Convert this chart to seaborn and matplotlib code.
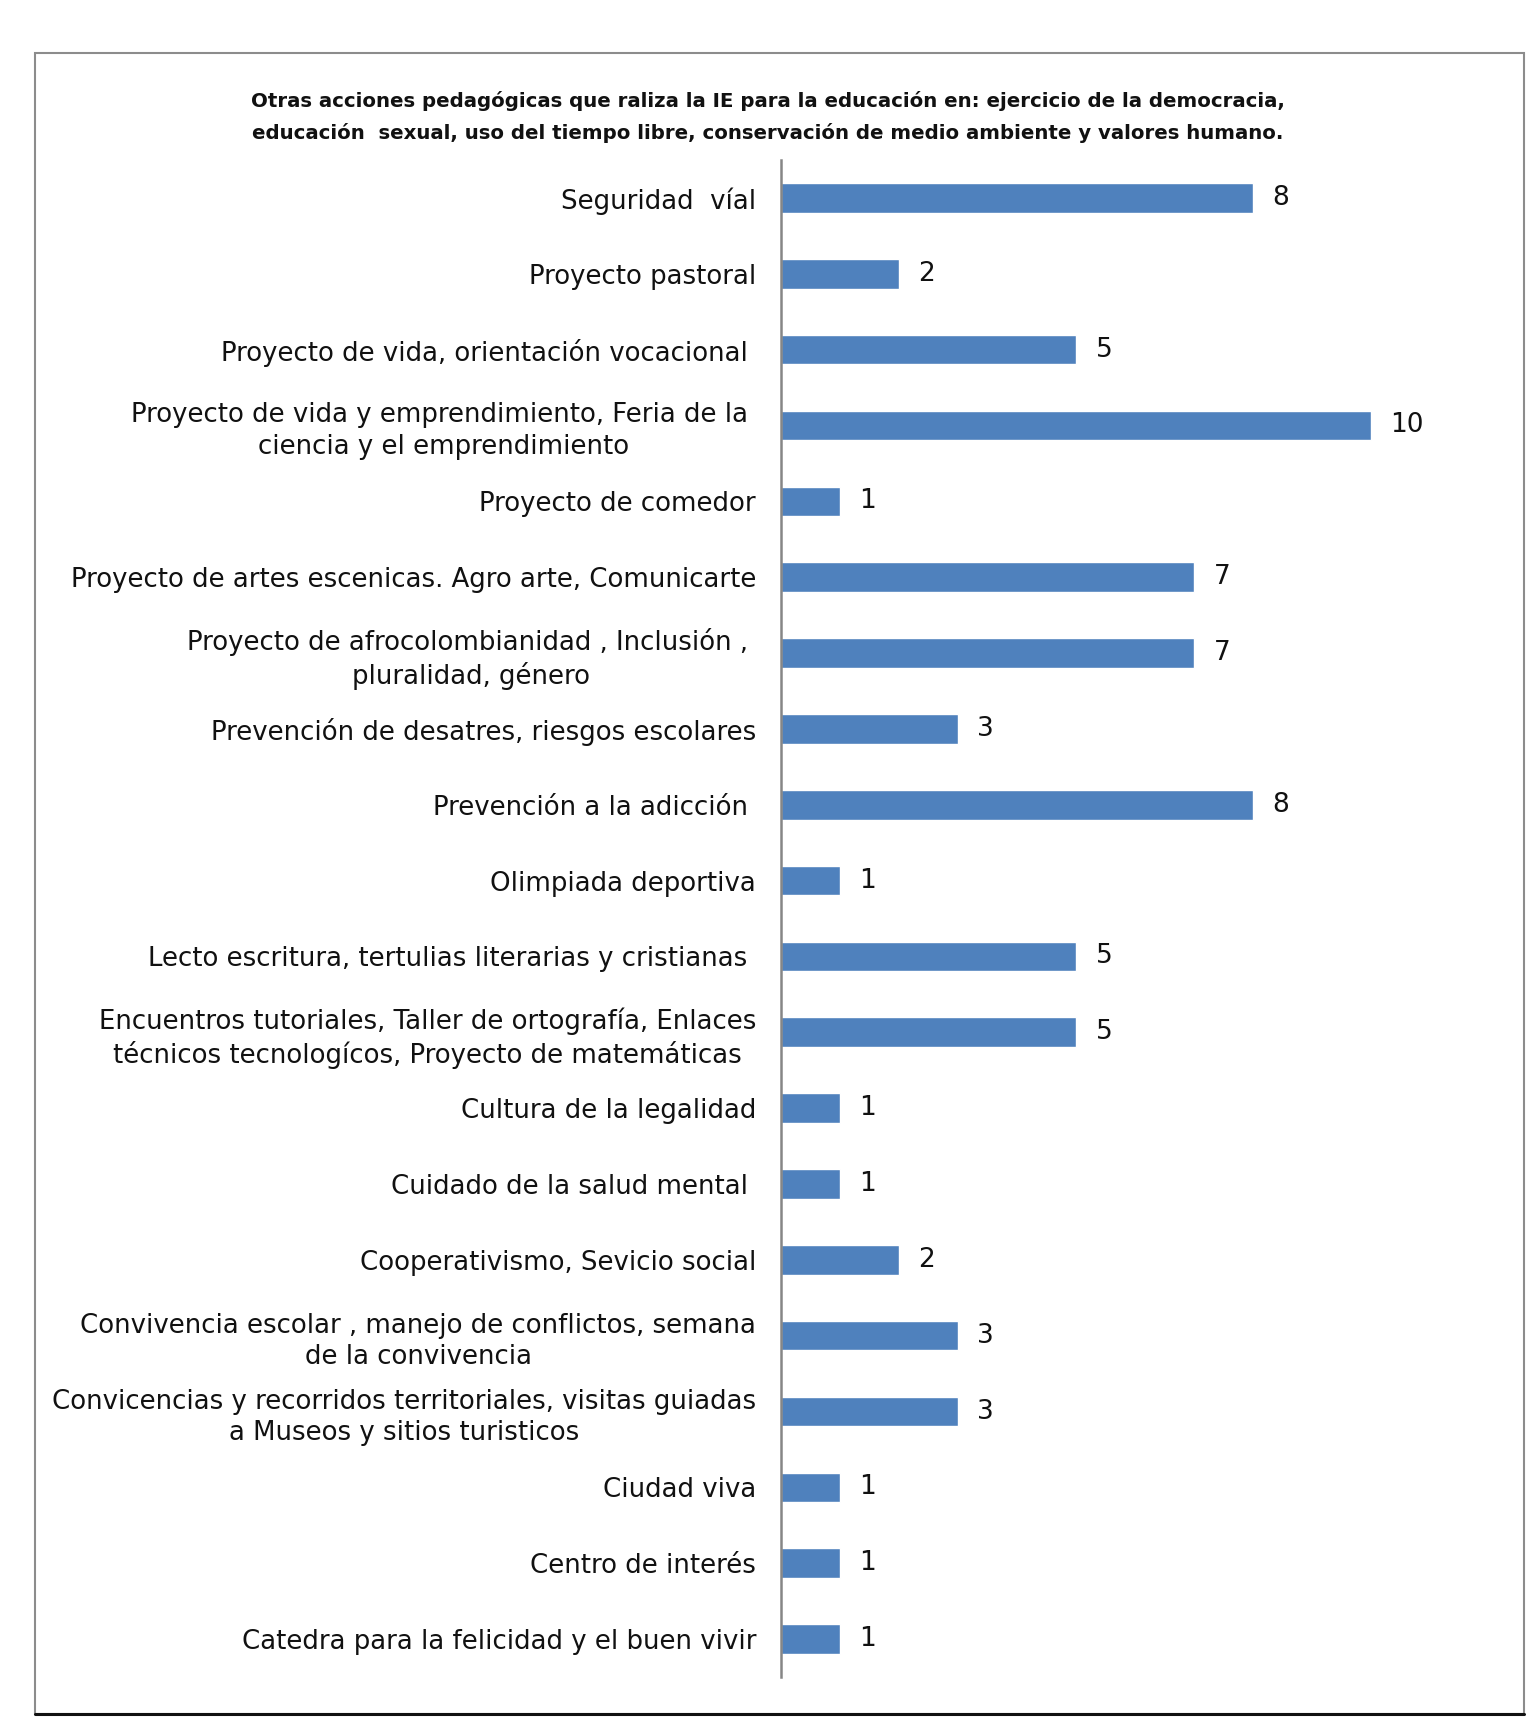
import matplotlib
matplotlib.use("Agg")
import matplotlib.pyplot as plt
import seaborn as sns
from matplotlib.patches import Rectangle
from matplotlib.lines import Line2D

categories = [
    "Seguridad  víal",
    "Proyecto pastoral",
    "Proyecto de vida, orientación vocacional ",
    "Proyecto de vida y emprendimiento, Feria de la \nciencia y el emprendimiento",
    "Proyecto de comedor",
    "Proyecto de artes escenicas. Agro arte, Comunicarte",
    "Proyecto de afrocolombianidad , Inclusión , \npluralidad, género",
    "Prevención de desatres, riesgos escolares",
    "Prevención a la adicción ",
    "Olimpiada deportiva",
    "Lecto escritura, tertulias literarias y cristianas ",
    "Encuentros tutoriales, Taller de ortografía, Enlaces\ntécnicos tecnologícos, Proyecto de matemáticas",
    "Cultura de la legalidad",
    "Cuidado de la salud mental ",
    "Cooperativismo, Sevicio social",
    "Convivencia escolar , manejo de conflictos, semana\nde la convivencia",
    "Convicencias y recorridos territoriales, visitas guiadas\na Museos y sitios turisticos",
    "Ciudad viva",
    "Centro de interés",
    "Catedra para la felicidad y el buen vivir",
]
values = [8, 2, 5, 10, 1, 7, 7, 3, 8, 1, 5, 5, 1, 1, 2, 3, 3, 1, 1, 1]

title = ("Otras acciones pedagógicas que raliza la IE para la educación en: ejercicio de la democracia,\n"
         "educación  sexual, uso del tiempo libre, conservación de medio ambiente y valores humano.")

sns.set_theme(style="white")
plt.rcParams['font.family'] = ['DejaVu Sans']

W, H = 1531, 1729
fig = plt.figure(figsize=(W / 100, H / 100), dpi=100)
fig.patch.set_facecolor("white")

# frame
fx0, fx1, fy0, fy1 = 35 / W, 1524 / W, 1 - 1714 / H, 1 - 53 / H
fig.patches.append(Rectangle((fx0, fy0), fx1 - fx0, fy1 - fy0, transform=fig.transFigure,
                             fill=False, edgecolor="#8c8c8c", linewidth=1.5))
fig.lines.append(Line2D([fx0, fx1], [fy0, fy0], transform=fig.transFigure,
                        color="#111111", linewidth=2.2))

xmax = 12.2
px_per_unit = 59
ax_left = 781 / W
ax_w = xmax * px_per_unit / W
ax_top = 1 - 160 / H
ax_bot = 1 - 1677 / H
ax = fig.add_axes([ax_left, ax_bot, ax_w, ax_top - ax_bot])

sns.barplot(x=values, y=categories, orient="h", color="#4F81BD", width=0.39,
            saturation=1, ax=ax)
ax.set_xlim(0, xmax)
ax.set_ylim(len(categories) - 0.5, -0.5)
ax.set_xlabel("")
ax.set_ylabel("")
ax.xaxis.set_visible(False)
for s in ["top", "right", "bottom"]:
    ax.spines[s].set_visible(False)
ax.spines["left"].set_color("#868686")
ax.spines["left"].set_linewidth(1.8)
ax.tick_params(axis="y", length=0, pad=18, labelsize=18.7, colors="#111111")
for lab in ax.get_yticklabels():
    lab.set_multialignment("center")
    lab.set_linespacing(1.28)

for cont in ax.containers:
    ax.bar_label(cont, padding=14, fontsize=19, color="#111111")

fig.text(768 / W, 1 - 117 / H, title, ha="center", va="center", fontsize=14.2,
         fontweight="bold", linespacing=1.77, color="#111111")

fig.savefig("out.png", dpi=100)
